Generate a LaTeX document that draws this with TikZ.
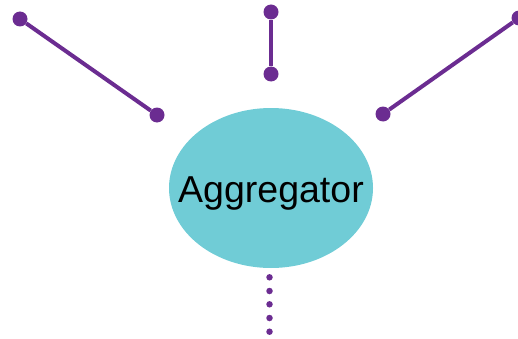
\documentclass[tikz,border=0pt]{standalone}
\usepackage{fontspec}
\setmainfont{Liberation Sans}
\usetikzlibrary{shapes.geometric}
\definecolor{aggfill}{RGB}{112,204,214}
\definecolor{linkpurple}{RGB}{107,44,145}
\begin{document}
\begin{tikzpicture}[x=1pt,y=1pt,
  bigdot/.style={circle,fill=linkpurple,inner sep=0pt,minimum size=15pt},
  smalldot/.style={circle,fill=linkpurple,inner sep=0pt,minimum size=6.5pt},
  link/.style={draw=linkpurple,line width=4pt}]
\useasboundingbox (0,0) rectangle (518,338);
\node[ellipse,fill=aggfill,minimum width=204pt,minimum height=160pt,inner sep=0pt] (agg) at (271,150) {};
\node[inner sep=0pt,anchor=base,font=\fontsize{37.5}{40}\selectfont] (agglabel) at ([yshift=-14pt]agg.center) {Aggregator};
\node[bigdot] (a1) at (20,319) {};
\node[bigdot] (a2) at (157,223) {};
\node[bigdot] (b1) at (271,326) {};
\node[bigdot] (b2) at (271,264) {};
\node[bigdot] (c1) at (519,320) {};
\node[bigdot] (c2) at (383,224) {};
\draw[link] (a1) -- (a2);
\draw[link] (b1) -- (b2);
\draw[link] (c1) -- (c2);
\node[smalldot] (d1) at (269.5,60.7) {};
\node[smalldot] (d2) at (269.5,47) {};
\node[smalldot] (d3) at (269.5,33.7) {};
\node[smalldot] (d4) at (269.5,20) {};
\node[smalldot] (d5) at (269.5,6.3) {};
\end{tikzpicture}
\end{document}
